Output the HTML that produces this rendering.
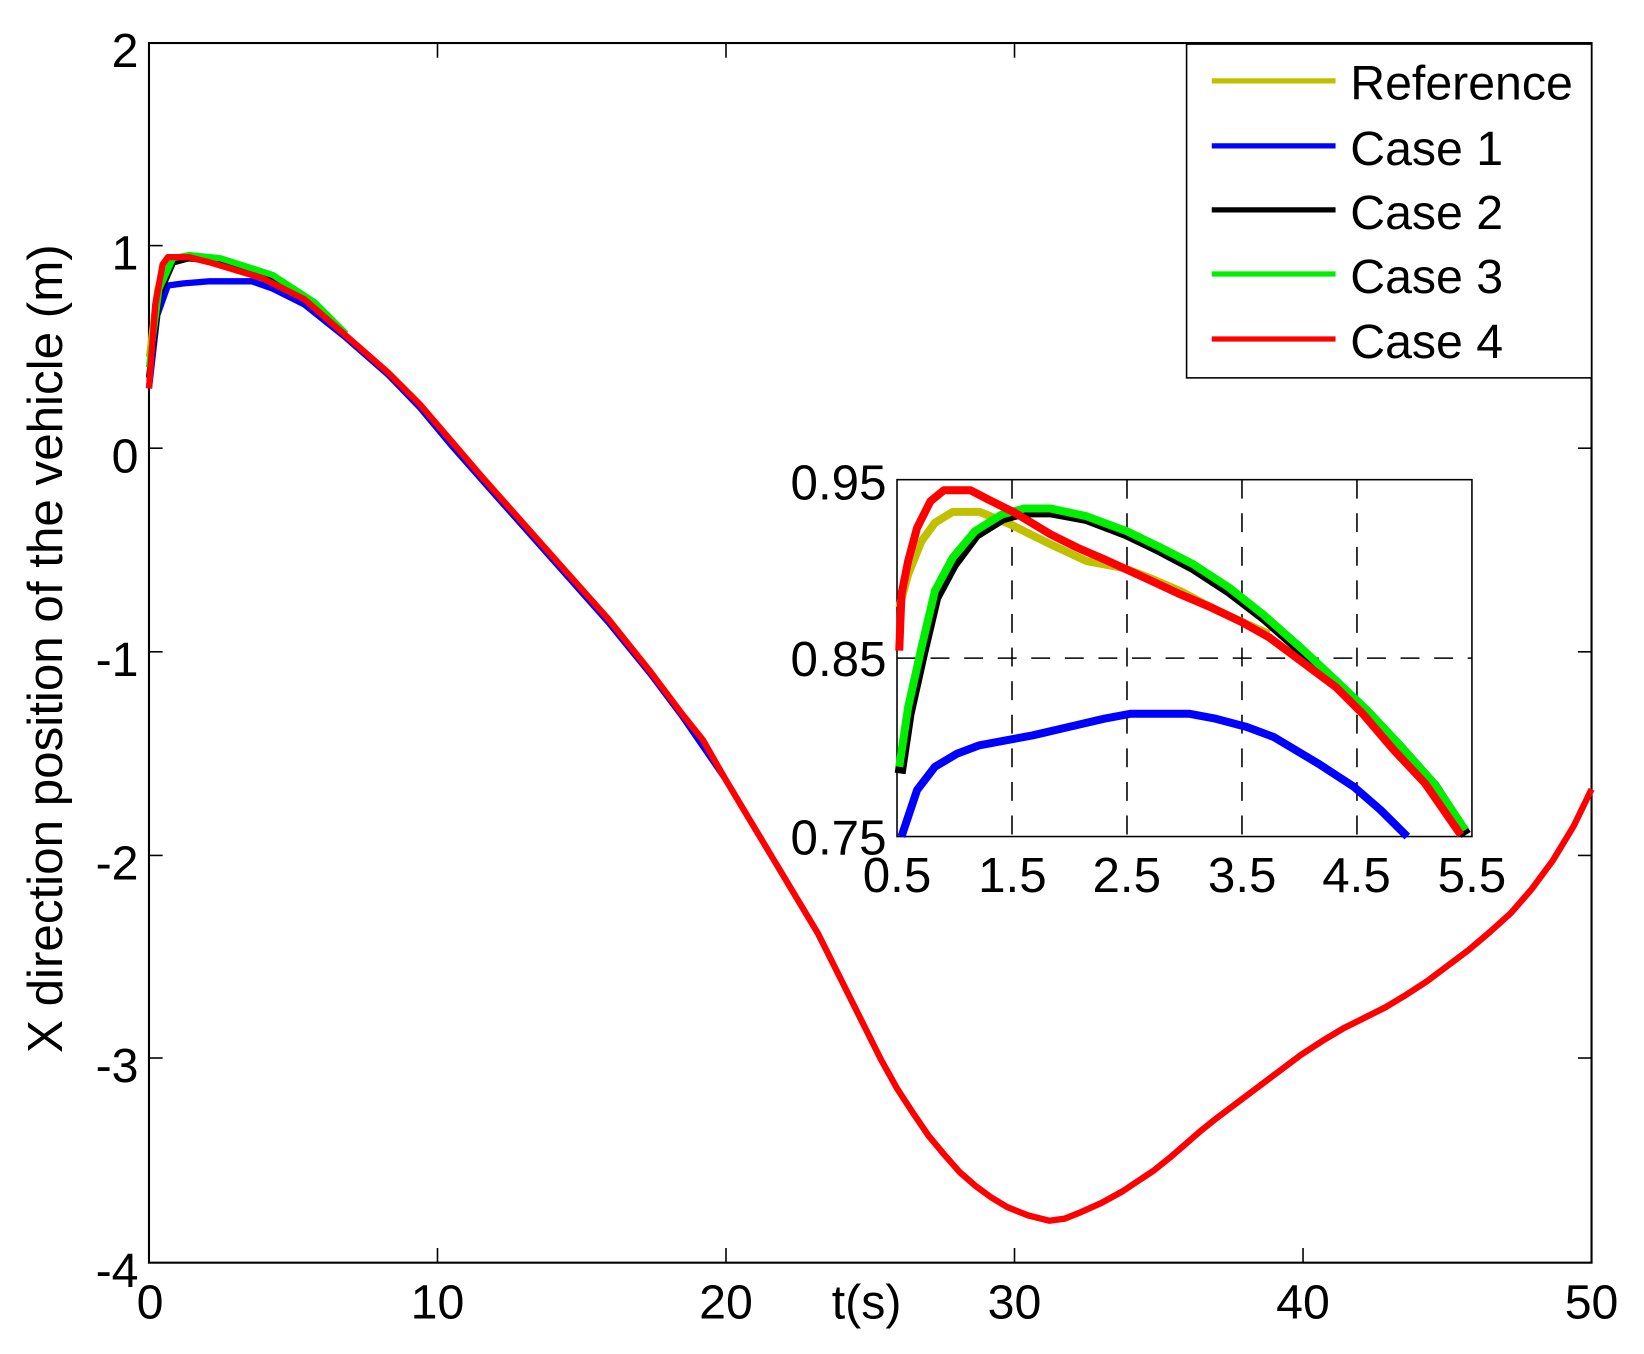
<!DOCTYPE html>
<html><head><meta charset="utf-8"><style>
html,body{margin:0;padding:0;background:#fff;}
svg{display:block;}
text{font-family:"Liberation Sans",Arial,sans-serif;fill:#000;}
</style></head><body>
<svg width="1644" height="1354" viewBox="0 0 1567 1290" preserveAspectRatio="none" xmlns="http://www.w3.org/2000/svg">
<rect width="1567" height="1290" fill="#fff"/>
<rect x="142" y="41" width="1375" height="1162" fill="none" stroke="#000" stroke-width="2"/>
<g stroke="#000" stroke-width="1.5">
<line x1="142" y1="234" x2="155" y2="234"/><line x1="142" y1="427" x2="155" y2="427"/><line x1="142" y1="621" x2="155" y2="621"/><line x1="142" y1="815" x2="155" y2="815"/><line x1="142" y1="1008" x2="155" y2="1008"/>
<line x1="1517" y1="427" x2="1504" y2="427"/><line x1="1517" y1="621" x2="1504" y2="621"/><line x1="1517" y1="815" x2="1504" y2="815"/><line x1="1517" y1="1008" x2="1504" y2="1008"/>
<line x1="417" y1="1203" x2="417" y2="1189"/><line x1="692" y1="1203" x2="692" y2="1189"/><line x1="967" y1="1203" x2="967" y2="1189"/><line x1="1242" y1="1203" x2="1242" y2="1189"/>
<line x1="417" y1="41" x2="417" y2="55"/><line x1="692" y1="41" x2="692" y2="55"/><line x1="967" y1="41" x2="967" y2="55"/><line x1="1242" y1="41" x2="1242" y2="55"/>
</g>
<g font-size="46" text-anchor="end">
<text x="132" y="64">2</text><text x="132" y="257">1</text><text x="132" y="450">0</text>
<text x="132" y="644">-1</text><text x="132" y="838">-2</text><text x="132" y="1031">-3</text><text x="132" y="1226">-4</text>
</g>
<g font-size="46" text-anchor="middle">
<text x="143" y="1256">0</text><text x="417" y="1256">10</text><text x="692" y="1256">20</text>
<text x="826" y="1256">t(s)</text>
<text x="967" y="1256">30</text><text x="1242" y="1256">40</text><text x="1517" y="1256">50</text>
</g>
<text font-size="47" text-anchor="middle" transform="translate(59,618) rotate(-90)">X direction position of the vehicle (m)</text>

<g fill="none" stroke-width="6" stroke-linejoin="round">
<polyline stroke="#0000ff" points="142,370 150,300 160,272 175,270 200,268 240,268 260,275 290,290 330,322 370,357 400,388 430,424 460,458 500,503 540,548 580,593 620,642 650,682 690,740"/>
<polyline stroke="#c0c000" points="142,340 150,275 160,250 175,246 200,248 250,262"/>
<polyline stroke="#000" points="142,360 152,280 165,250 180,246 210,249 260,265 300,290"/>
<polyline stroke="#00ee00" points="142,350 152,275 165,246 180,243 210,246 260,262 300,288 330,318"/>
<polyline stroke="#ff0000" points="142,370 148,290 155,252 160,245 180,245 200,250 250,265 290,285 330,320 370,355 400,385 430,420 460,455 500,500 540,545 580,590 620,640 650,680 670,705 690,740 705,765 720,790 735,815 750,840 765,865 780,890 795,920 810,950 825,980 840,1010 855,1037 870,1060 885,1082 900,1100 915,1117 930,1130 945,1141 960,1150 980,1158 1000,1163 1015,1161 1030,1155 1050,1146 1070,1135 1085,1125 1100,1115 1115,1103 1130,1090 1145,1077 1160,1065 1180,1050 1200,1035 1220,1020 1240,1005 1260,992 1280,980 1300,970 1320,960 1340,948 1360,935 1380,920 1400,905 1420,888 1440,870 1460,847 1480,820 1500,787 1517,752"/>
</g>

<rect x="1131" y="42" width="386" height="318" fill="#fff" stroke="#000" stroke-width="1.5"/>
<g stroke-width="5">
<line x1="1155" y1="77" x2="1273" y2="77" stroke="#c0c000"/>
<line x1="1155" y1="139" x2="1273" y2="139" stroke="#0000ff"/>
<line x1="1155" y1="200" x2="1273" y2="200" stroke="#000"/>
<line x1="1155" y1="261" x2="1273" y2="261" stroke="#00ee00"/>
<line x1="1155" y1="323" x2="1273" y2="323" stroke="#ff0000"/>
</g>
<g font-size="46">
<text x="1287" y="95">Reference</text><text x="1287" y="157">Case 1</text><text x="1287" y="218">Case 2</text>
<text x="1287" y="279">Case 3</text><text x="1287" y="341">Case 4</text>
</g>

<rect x="855" y="457" width="548" height="340" fill="#fff" stroke="#000" stroke-width="1.5"/>
<g stroke="#000" stroke-width="1.5" stroke-dasharray="18,14">
<line x1="964.6" y1="457" x2="964.6" y2="797"/><line x1="1074.2" y1="457" x2="1074.2" y2="797"/>
<line x1="1183.8" y1="457" x2="1183.8" y2="797"/><line x1="1293.4" y1="457" x2="1293.4" y2="797"/>
<line x1="855" y1="627" x2="1403" y2="627"/>
</g>
<g transform="translate(855,457) scale(0.4248,0.3163) translate(-215,-175)" fill="none" stroke-linejoin="round">
<polyline vector-effect="non-scaling-stroke" stroke-width="8" stroke="#0000ff" points="225,1250 260,1110 300,1040 350,1000 400,975 460,960 520,945 600,920 680,895 740,880 870,880 930,895 1000,920 1060,950 1160,1030 1240,1100 1300,1170 1360,1250"/>
<polyline vector-effect="non-scaling-stroke" stroke-width="8" stroke="#c0c000" points="220,560 240,460 270,360 300,305 340,272 400,272 470,310 560,370 640,420 720,440 780,470 850,510 920,560 1000,610 1050,640"/>
<polyline vector-effect="non-scaling-stroke" stroke-width="11" stroke="#000" points="222,1060 242,880 272,700 302,530 342,430 392,340 452,290 500,272 560,272 640,292 730,338 800,383 880,440 960,510 1040,592 1120,687 1200,787 1270,877 1340,977 1420,1097 1492,1245"/>
<polyline vector-effect="non-scaling-stroke" stroke-width="8" stroke="#00ee00" points="220,1040 240,860 270,680 300,510 340,410 390,330 450,280 500,262 560,262 640,285 730,330 800,375 880,430 960,500 1040,585 1120,680 1200,780 1270,870 1340,970 1420,1090 1490,1230"/>
<polyline vector-effect="non-scaling-stroke" stroke-width="8" stroke="#ff0000" points="220,690 225,520 240,420 260,320 290,240 320,207 380,207 420,235 480,275 560,340 620,380 680,415 770,470 850,520 920,560 990,605 1050,650 1130,730 1200,800 1260,880 1330,990 1400,1090 1480,1245"/>
</g>
<g font-size="47" text-anchor="end">
<text x="845" y="476">0.95</text><text x="845" y="644">0.85</text><text x="845" y="814">0.75</text>
</g>
<g font-size="47" text-anchor="middle">
<text x="855" y="850">0.5</text><text x="965" y="850">1.5</text><text x="1074" y="850">2.5</text>
<text x="1184" y="850">3.5</text><text x="1293" y="850">4.5</text><text x="1403" y="850">5.5</text>
</g>
</svg>
</body></html>
